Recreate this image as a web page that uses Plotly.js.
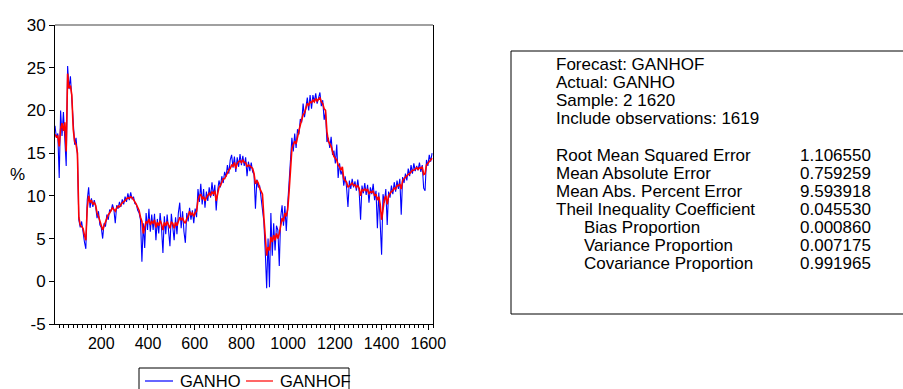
<!DOCTYPE html>
<html><head><meta charset="utf-8">
<script src="https://cdn.plot.ly/plotly-3.0.1.min.js"></script>
<style>html,body{margin:0;padding:0;background:#fff}#chart{width:903px;height:389px}</style>
</head><body><div id="chart"></div>
<script>
// observation index of the first value and spacing between sampled observations
const obsStart = 2;
const obsStep = 6;

// GANHO (actual)
const ganho = [
 18.2,16.8,17.3,12.1,20.0,17.0,19.8,16.5,13.5,25.2,
 22.5,24.0,21.0,18.0,16.0,16.8,14.8,7.2,6.3,7.0,
 5.6,4.6,3.8,9.5,11.0,8.6,9.7,8.7,9.5,8.8,
 7.4,8.2,6.6,6.3,5.0,6.8,6.4,7.8,7.2,8.4,
 8.2,9.0,8.4,6.8,8.9,8.5,9.3,8.7,9.6,9.0,
 9.9,9.3,10.3,9.5,10.4,9.6,9.9,9.1,9.0,8.3,
 8.0,7.2,2.3,6.8,3.9,8.0,6.0,8.5,5.8,7.8,
 6.0,7.9,4.8,7.3,5.6,8.0,6.2,3.3,7.6,5.5,
 7.8,5.9,4.1,7.9,6.0,4.8,7.5,5.5,8.0,9.2,
 6.2,8.2,5.8,4.5,8.0,7.0,8.6,7.2,8.3,6.8,
 8.5,7.5,10.8,9.3,11.4,9.0,10.8,8.6,10.5,9.4,
 11.0,9.8,11.6,10.0,11.3,8.3,10.6,11.8,11.0,12.3,
 11.5,12.8,12.2,13.6,12.6,14.2,14.8,13.3,14.6,12.8,
 14.5,13.4,14.9,13.6,14.7,13.5,14.5,12.3,14.0,12.9,
 13.9,12.8,12.5,8.5,11.9,11.0,11.2,10.0,8.4,7.0,
 3.5,-0.8,5.0,-0.7,8.0,3.0,6.8,3.6,6.5,6.0,
 1.8,7.5,8.9,6.5,8.8,5.9,9.0,11.5,15.0,16.8,
 15.2,17.3,15.6,17.8,17.2,19.0,18.6,20.8,19.2,20.5,
 21.5,20.0,21.8,20.2,21.8,21.0,22.0,20.8,21.6,22.1,
 20.5,21.2,18.9,19.8,16.3,16.8,15.6,16.9,14.8,15.3,
 13.8,16.0,12.1,13.8,12.5,13.0,11.2,12.3,11.0,8.7,
 11.8,10.8,12.0,11.0,11.7,10.6,11.9,10.5,7.2,11.2,
 10.3,11.5,10.1,11.3,9.2,11.0,10.2,11.4,9.5,10.6,
 6.2,10.4,6.8,3.1,10.2,9.2,10.8,6.6,10.5,9.8,
 11.2,10.2,11.6,10.5,11.8,10.8,12.0,7.8,12.2,11.5,
 12.6,11.8,13.2,12.3,13.6,12.6,13.8,12.9,13.5,13.0,
 13.9,12.8,13.6,10.9,10.6,14.2,13.5,14.8,14.0,15.0
];

// GANHOF (forecast)
const ganhof = [
 17.2,16.9,17.0,15.8,17.8,18.5,17.6,18.6,15.2,24.3,
 22.6,22.9,21.8,17.8,16.4,16.0,15.0,7.5,6.6,6.4,
 6.2,5.4,4.8,8.6,10.0,9.2,9.5,9.0,9.2,8.9,
 8.0,7.6,7.0,6.3,6.0,6.5,7.0,7.4,7.8,8.0,
 8.3,8.6,8.4,8.2,8.6,8.8,8.7,9.0,9.2,9.3,
 9.5,9.6,9.8,9.7,9.9,9.8,9.6,9.3,9.0,8.6,
 8.3,7.5,7.0,5.6,6.2,7.0,6.8,7.3,6.6,7.0,
 6.8,7.2,6.3,6.9,6.5,7.1,6.7,6.0,6.9,6.5,
 7.0,6.6,6.2,6.9,6.8,6.2,6.9,6.5,7.0,7.5,
 7.2,7.4,7.0,6.8,7.3,7.6,8.2,7.8,8.0,7.6,
 8.0,8.2,9.5,10.0,10.2,9.6,9.9,9.4,9.8,10.0,
 10.3,10.0,10.5,10.2,10.6,9.4,10.2,11.0,11.2,11.6,
 12.0,12.0,12.4,12.8,13.0,13.2,13.6,13.5,13.9,13.2,
 13.8,14.0,14.1,13.9,14.2,13.9,13.9,13.4,13.6,13.5,
 13.4,13.2,12.6,11.4,11.8,11.5,10.9,10.5,10.2,7.5,
 4.8,3.0,4.0,3.6,5.2,4.6,5.4,4.8,5.6,5.0,
 5.6,6.5,7.4,7.0,8.0,7.6,8.4,10.5,13.8,15.5,
 16.0,16.4,16.1,17.0,17.6,18.3,19.0,19.5,19.7,20.3,
 20.8,20.6,21.0,20.9,21.2,21.0,21.4,21.1,21.3,21.5,
 21.0,20.8,20.2,20.0,17.5,16.4,16.1,15.8,15.2,14.6,
 14.4,14.2,13.6,13.4,13.0,13.4,12.0,11.8,11.6,11.0,
 11.2,11.3,11.5,11.2,11.3,11.0,11.2,10.9,10.0,10.7,
 10.6,10.8,10.6,10.8,10.2,10.5,10.4,10.6,10.0,10.2,
 9.5,9.9,9.0,7.2,8.6,9.6,10.0,9.0,10.0,10.3,
 10.5,10.6,10.9,10.8,11.2,11.2,11.4,10.8,11.8,12.0,
 12.2,12.3,12.5,12.6,12.8,13.0,13.0,13.2,13.3,13.1,
 13.3,13.2,13.4,12.5,12.6,13.6,13.8,14.0,14.1,14.4
];

const seriesNames = ["GANHO", "GANHOF"];
const seriesColors = ["#0000ff", "#ff0000"];

const xTickVals = [200,400,600,800,1000,1200,1400,1600];
const yTickVals = [-5,0,5,10,15,20,25,30];

const headerLines = ["Forecast: GANHOF","Actual: GANHO","Sample: 2 1620","Include observations: 1619"];
const statNames = ["Root Mean Squared Error","Mean Absolute Error","Mean Abs. Percent Error","Theil Inequality Coefficient","Bias Proportion","Variance Proportion","Covariance Proportion"];
const statValues = ["1.106550","0.759259","9.593918","0.045530","0.000860","0.007175","0.991965"];
const statIndent = [false,false,false,false,true,true,true];

const obs = ganho.map((_, i) => obsStart + i * obsStep);

// layout geometry (pixels)
const W = 903, H = 389;
const L = 55, R = 433, T = 25, B = 324;
const px2x = p => (p - L) / (R - L);
const py2y = p => (B - p) / (B - T);
const FONT = "Liberation Sans, Arial, Helvetica, sans-serif";

const traces = [
  {x: obs, y: ganho, type: 'scatter', mode: 'lines', name: seriesNames[0],
   line: {color: seriesColors[0], width: 1.1}},
  {x: obs, y: ganhof, type: 'scatter', mode: 'lines', name: seriesNames[1],
   line: {color: seriesColors[1], width: 1.6}}
];

const annotations = [];
annotations.push({xref:'paper', yref:'paper', x: px2x(17), y: 0.5, text: '%', showarrow:false,
  xanchor:'center', yanchor:'middle', font:{family:FONT, size:17, color:'#000'}});
const headerY = [64.5, 82.5, 100.5, 118.5];
headerLines.forEach((t, i) => annotations.push({xref:'paper', yref:'paper', x: px2x(554), y: py2y(headerY[i]),
  text: t, showarrow:false, xanchor:'left', yanchor:'middle', font:{family:FONT, size:17, color:'#000'}}));
statNames.forEach((t, i) => {
  const yy = py2y(155 + i * 18);
  annotations.push({xref:'paper', yref:'paper', x: px2x(statIndent[i] ? 582 : 554), y: yy,
    text: t, showarrow:false, xanchor:'left', yanchor:'middle', font:{family:FONT, size:17, color:'#000'}});
  annotations.push({xref:'paper', yref:'paper', x: px2x(873), y: yy,
    text: statValues[i], showarrow:false, xanchor:'right', yanchor:'middle', font:{family:FONT, size:17, color:'#000'}});
});

const shapes = [
  {type:'line', xref:'paper', yref:'paper', x0:0, x1:1, y0:1, y1:1, line:{color:'#808080', width:1.5}},
  {type:'rect', xref:'paper', yref:'paper', x0:px2x(511), x1:px2x(920), y0:py2y(314), y1:py2y(51), line:{color:'#000', width:1}},
  // legend box (bottom edge falls below the picture, as in the reference)
  {type:'rect', xref:'paper', yref:'paper', x0:px2x(139), x1:px2x(349), y0:py2y(400), y1:py2y(368), line:{color:'#000', width:1}}
];

// legend entries
const legLineX = [[145, 173], [246, 273]];
const legTextX = [179, 279];
seriesNames.forEach((n, i) => {
  shapes.push({type:'line', xref:'paper', yref:'paper', x0:px2x(legLineX[i][0]), x1:px2x(legLineX[i][1]),
    y0:py2y(381), y1:py2y(381), line:{color:seriesColors[i], width:1.2}});
  annotations.push({xref:'paper', yref:'paper', x:px2x(legTextX[i] - 1), y:py2y(381), text:n, showarrow:false,
    xanchor:'left', yanchor:'middle', font:{family:FONT, size:16.5, color:'#000'}});
});

const layout = {
  width: W, height: H,
  margin: {l: L, r: W - R, t: T, b: H - B, autoexpand: false},
  paper_bgcolor: '#fff', plot_bgcolor: '#fff',
  font: {family: FONT, color: '#000'},
  showlegend: false,
  xaxis: {range:[obsStart, 1620], tickmode:'array', tickvals:xTickVals, showgrid:false, zeroline:false,
    showline:true, linecolor:'#000', linewidth:1, ticks:'outside', ticklen:5, tickcolor:'#000',
    tickfont:{family:FONT, size:16, color:'#000'},
    minor:{dtick:20, tick0:0, ticks:'outside', ticklen:3, tickcolor:'#000', showgrid:false}},
  yaxis: {range:[-5, 30], tickmode:'array', tickvals:yTickVals, ticktext:yTickVals.map(String),
    showgrid:false, zeroline:false,
    showline:true, mirror:true, linecolor:'#000', linewidth:1, ticks:'outside', ticklen:5, tickcolor:'#000',
    tickfont:{family:FONT, size:17, color:'#000'}},
  annotations: annotations,
  shapes: shapes
};

Plotly.newPlot('chart', traces, layout, {staticPlot: true, displayModeBar: false});
</script>
</body></html>
